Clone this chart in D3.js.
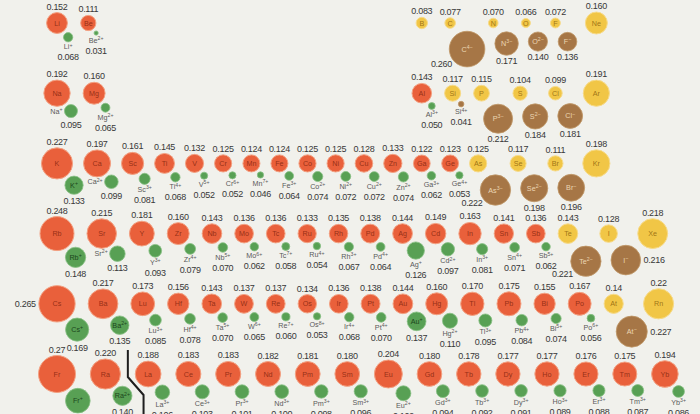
<!DOCTYPE html>
<html><head><meta charset="utf-8">
<script src="https://cdn.jsdelivr.net/npm/d3@7"></script>
<style>
html,body{margin:0;padding:0;background:#f1f1ec;}
svg{display:block;}
</style></head><body>
<svg id="chart" width="700" height="414"></svg>
<script>
// ---------------- data ----------------
const symbols = ["Li","Be","B","C","N","O","F","Ne",
 "Na","Mg","Al","Si","P","S","Cl","Ar",
 "K","Ca","Sc","Ti","V","Cr","Mn","Fe","Co","Ni","Cu","Zn","Ga","Ge","As","Se","Br","Kr",
 "Rb","Sr","Y","Zr","Nb","Mo","Tc","Ru","Rh","Pd","Ag","Cd","In","Sn","Sb","Te","I","Xe",
 "Cs","Ba","La","Ce","Pr","Nd","Pm","Sm","Eu","Gd","Tb","Dy","Ho","Er","Tm","Yb","Lu","Hf","Ta","W","Re","Os","Ir","Pt","Au","Hg","Tl","Pb","Bi","Po","At","Rn",
 "Fr","Ra"];
const firstAtomicNumber = 3;
const atomicRadii = ["0.152","0.111","0.083","0.077","0.070","0.066","0.072","0.160",
 "0.192","0.160","0.143","0.117","0.115","0.104","0.099","0.191",
 "0.227","0.197","0.161","0.145","0.132","0.125","0.124","0.124","0.125","0.125","0.128","0.133","0.122","0.123","0.125","0.117","0.111","0.198",
 "0.248","0.215","0.181","0.160","0.143","0.136","0.136","0.133","0.135","0.138","0.144","0.149","0.163","0.141","0.136","0.143","0.128","0.218",
 "0.265","0.217","0.188","0.183","0.183","0.182","0.181","0.180","0.204","0.180","0.178","0.177","0.177","0.176","0.175","0.194","0.173","0.156","0.143","0.137","0.137","0.134","0.136","0.138","0.144","0.160","0.170","0.175","0.155","0.167","0.14","0.22",
 "0.27","0.220"];
const ionCharges = ["+","2+","","4−","3−","2−","−","",
 "+","2+","3+","4+","3−","2−","−","",
 "+","2+","3+","4+","5+","6+","7+","3+","2+","2+","2+","2+","3+","4+","3−","2−","−","",
 "+","2+","3+","4+","5+","6+","7+","4+","3+","4+","+","2+","3+","4+","5+","2−","−","",
 "+","2+","3+","3+","3+","3+","3+","3+","2+","3+","3+","3+","3+","3+","3+","3+","3+","4+","5+","6+","7+","8+","4+","4+","+","2+","3+","4+","5+","6+","−","",
 "+","2+"];
const ionicRadii = ["0.068","0.031","","0.260","0.171","0.140","0.136","",
 "0.095","0.065","0.050","0.041","0.212","0.184","0.181","",
 "0.133","0.099","0.081","0.068","0.052","0.052","0.046","0.064","0.074","0.072","0.072","0.074","0.062","0.053","0.222","0.198","0.196","",
 "0.148","0.113","0.093","0.079","0.070","0.062","0.058","0.054","0.067","0.064","0.126","0.097","0.081","0.071","0.062","0.221","0.216","",
 "0.169","0.135","0.106","0.103","0.101","0.100","0.098","0.096","0.109","0.094","0.092","0.091","0.089","0.088","0.087","0.086","0.085","0.078","0.070","0.065","0.060","0.053","0.068","0.070","0.137","0.110","0.095","0.084","0.074","0.056","0.227","",
 "0.180","0.140"];
const nonmetals = ["B","C","N","O","F","Ne","Si","P","S","Cl","Ar","As","Se","Br","Kr","Te","I","Xe","At","Rn"];
const sBlock = [3,4,11,12,19,20,37,38,55,56,87,88];

// ---------------- setup ----------------
const W = 700, H = 414;
const FONT = '"Liberation Sans", Arial, Helvetica, sans-serif';
const svg = d3.select("#chart");
svg.append("rect").attr("width", W).attr("height", H).attr("fill", "#f1f1ec");

const rScale = d3.scaleLinear().domain([0, 0.27]).range([0, 18.5]);
const yScale = d3.scaleLinear().domain([2, 7]).range([23, 374]);
const xStart = 57;
const rowGap = {2: 13, 3: 13, 4: 11, 5: 13, 6: 13, 7: 14.8};

const colors = {
  metal: {fill: "#e9603b", stroke: "#f3a182", text: "#86260f"},
  nonmetal: {fill: "#f1c646", stroke: "#f7db8a", text: "#90650c"},
  cation: {fill: "#58a054", stroke: "#88c084", text: "#1c461c"},
  brown: {fill: "#a67646", stroke: "#c09868", text: "#ecd6b4"}
};

const els = symbols.map((s, i) => {
  const z = firstAtomicNumber + i;
  const period = z <= 10 ? 2 : z <= 18 ? 3 : z <= 36 ? 4 : z <= 54 ? 5 : z <= 86 ? 6 : 7;
  const block = (z >= 57 && z <= 70) ? "f" : sBlock.includes(z) ? "s" :
    ((z >= 21 && z <= 30) || (z >= 39 && z <= 48) || (z >= 71 && z <= 80)) ? "d" : "p";
  const charge = ionCharges[i];
  return {
    sym: s, z, period, block, row: block === "f" ? 7 : period,
    metal: !nonmetals.includes(s),
    arLabel: atomicRadii[i], ra: rScale(+atomicRadii[i]),
    charge, irLabel: ionicRadii[i], ri: charge ? rScale(+ionicRadii[i]) : 0,
    anion: charge.endsWith("−")
  };
});

function ionOff(e) {
  if (!e.charge) return null;
  const a = (e.anion ? 57 : 52) * Math.PI / 180, g = e.anion ? 8 : 3;
  const d = e.ra + e.ri + g;
  return {dx: d * Math.cos(a), dy: d * Math.sin(a)};
}

function pack(list, startX, gap) {
  list.forEach((e, i) => {
    const minX = e.minX ?? -Infinity;
    if (i === 0) { e.x = Math.max(startX, minX); return; }
    const p = list[i - 1];
    let x = Math.max(p.x + p.ra + e.ra + gap, p.x + 26, minX);
    const po = ionOff(p);
    if (po) {
      const need = p.ri + e.ra + (p.anion ? 8 : 6);
      if (need > po.dy) x = Math.max(x, p.x + po.dx + Math.sqrt(need * need - po.dy * po.dy));
      const eo = ionOff(e);
      if (eo) {
        const sep = (p.anion || e.anion) ? p.ri + e.ri + 10 : Math.max(p.ri + e.ri + 6, 28);
        x = Math.max(x, p.x + po.dx + sep - eo.dx);
      }
    }
    e.x = x;
  });
}

const blockOrder = {s: 0, f: 1, d: 2, p: 3};
const rows = d3.group(els, e => e.row);
rows.forEach(list => list.sort((a, b) => blockOrder[a.block] - blockOrder[b.block] || a.z - b.z));
[4, 5, 6, 7].forEach(r => pack(rows.get(r), xStart, rowGap[r]));
const pCols = rows.get(4).filter(e => e.block === "p");
[3, 2].forEach(r => {
  const list = rows.get(r);
  const pList = list.filter(e => e.block === "p");
  pList.forEach((e, i) => { e.minX = pCols[i].x; });
  pack(list.filter(e => e.block === "s"), xStart, rowGap[r]);
  pack(pList, pCols[0].x, rowGap[r]);
});
els.forEach(e => {
  e.y = yScale(e.row);
  const o = ionOff(e);
  if (o) { e.ix = e.x + o.dx; e.iy = e.y + o.dy; }
});

// ---------------- circles ----------------
const atomStyle = e => e.metal ? colors.metal : colors.nonmetal;
const ionStyle = e => e.metal ? colors.cation : colors.brown;
const ions = els.filter(e => e.charge);

svg.append("g").selectAll("circle").data(els).join("circle")
  .attr("cx", e => e.x).attr("cy", e => e.y).attr("r", e => e.ra)
  .attr("fill", e => atomStyle(e).fill).attr("stroke", e => atomStyle(e).stroke).attr("stroke-width", 1);
svg.append("g").selectAll("circle").data(ions).join("circle")
  .attr("cx", e => e.ix).attr("cy", e => e.iy).attr("r", e => e.ri)
  .attr("fill", e => ionStyle(e).fill).attr("stroke", e => ionStyle(e).stroke).attr("stroke-width", 0.8);

// lanthanide separator line
const Ra = els.find(e => e.sym === "Ra"), La = els.find(e => e.sym === "La");
const lx1 = (Ra.x + Ra.ra + La.x - La.ra) / 2;
const lx2 = (Ra.ix + Ra.ri + La.ix - La.ri) / 2;
const ly0 = (yScale(6) + yScale(7)) / 2 + 11;
svg.append("path")
  .attr("d", d3.line()([[lx1, ly0], [lx1, La.y + 3], [lx2, La.y + 21], [lx2, H + 5]]))
  .attr("fill", "none").attr("stroke", "#1e1e1e").attr("stroke-width", 2);

// ---------------- label placement ----------------
const placed = [];
const circ = [];
els.forEach(e => { circ.push({x: e.x, y: e.y, r: e.ra + 0.5}); if (e.charge) circ.push({x: e.ix, y: e.iy, r: e.ri + 0.5}); });
function hitCircle(b, c) {
  const cx = Math.max(b.x0, Math.min(c.x, b.x1)), cy = Math.max(b.y0, Math.min(c.y, b.y1));
  return (cx - c.x) ** 2 + (cy - c.y) ** 2 < c.r * c.r;
}
function overlap(a, b) {
  return Math.max(0, Math.min(a.x1, b.x1) - Math.max(a.x0, b.x0)) * Math.max(0, Math.min(a.y1, b.y1) - Math.max(a.y0, b.y0));
}
function cost(b) {
  let c = 0;
  placed.forEach(p => { c += overlap(b, p); });
  circ.forEach(k => { if (hitCircle(b, k)) c += 25; });
  if (b.x0 < 0 || b.x1 > W || b.y0 < -2) c += 200;
  return c;
}
function choose(cands) {
  let best = null, bc = Infinity;
  for (const b of cands) { const c = cost(b); if (c === 0) { best = b; break; } if (c < bc) { bc = c; best = b; } }
  placed.push(best);
  return best;
}
function box(x, base, w, h, anchor) {
  const x0 = anchor === "middle" ? x - w / 2 : anchor === "end" ? x - w : x;
  return {x, base, anchor, x0, x1: x0 + w, y0: base - h, y1: base + 1};
}
const VAL = 9, SYM = 7.2, ISYM = 7.2;
const valW = s => s.length * 4.3;
const symW = (s, c) => s.length * SYM * 0.6 + c.length * SYM * 0.45;

const valueLabels = [];
const ionSymLabels = [];

// cation symbols + values
ions.filter(e => !e.anion).forEach(e => {
  const inside = e.ri >= 8.7;
  let symBox = null;
  if (!inside) {
    const w = symW(e.sym, e.charge);
    const cands = [];
    if (e.block === "s") cands.push(box(e.ix - e.ri - 2, e.iy + 2.5, w, 6.5, "end"));
    cands.push(box(e.ix, e.iy + e.ri + 7.5, w, 6.5, "middle"));
    symBox = choose(cands);
    ionSymLabels.push({e, b: symBox});
  }
  const below = symBox && symBox.anchor === "middle";
  const vb = choose([box(e.ix, e.iy + e.ri + (below ? 18.5 : 10), valW(e.irLabel), 6.8, "middle")]);
  valueLabels.push({t: e.irLabel, b: vb});
});

// atom values
els.forEach(e => {
  const w = valW(e.arLabel);
  const b = choose([
    box(e.x, e.y - e.ra - 3, w, 6.8, "middle"),
    box(e.x - e.ra - 3, e.y + 3, w, 6.8, "end"),
    box(e.x + e.ra + 3, e.y + 3, w, 6.8, "start")
  ]);
  valueLabels.push({t: e.arLabel, b});
});

// anion values
ions.filter(e => e.anion).forEach(e => {
  const w = valW(e.irLabel);
  const b = choose([
    box(e.ix, e.iy + e.ri + 9, w, 6.8, "middle"),
    box(e.ix - e.ri * 0.85, e.iy + e.ri * 0.8 + 4, w, 6.8, "end"),
    box(e.ix + e.ri + 3, e.iy + 3, w, 6.8, "start"),
    box(e.ix, e.iy - e.ri - 2, w, 6.8, "middle"),
    box(e.ix - e.ri - 3, e.iy + 3, w, 6.8, "end"),
    box(e.ix + e.ri * 0.85, e.iy + e.ri * 0.8 + 4, w, 6.8, "start")
  ]);
  valueLabels.push({t: e.irLabel, b});
});

// ---------------- texts ----------------
const tg = svg.append("g").attr("font-family", FONT);
tg.selectAll("text.val").data(valueLabels).join("text").attr("class", "val")
  .attr("x", d => d.b.x).attr("y", d => d.b.base).attr("text-anchor", d => d.b.anchor)
  .attr("font-size", VAL).attr("letter-spacing", -0.3).attr("fill", "#383838").text(d => d.t);

// element symbols in atoms
tg.selectAll("text.sym").data(els).join("text").attr("class", "sym")
  .attr("x", e => e.x).attr("y", e => e.y).attr("dy", "0.35em").attr("text-anchor", "middle")
  .attr("font-size", SYM).attr("fill", e => atomStyle(e).text).attr("fill-opacity", 0.85).text(e => e.sym);

function ionText(sel, size) {
  sel.each(function(d) {
    const e = d.e || d;
    const t = d3.select(this);
    t.append("tspan").text(e.sym);
    t.append("tspan").attr("font-size", size * 0.72).attr("dy", -size * 0.38).text(e.charge);
  });
}
// ion symbols inside circles
const insideIons = ions.filter(e => e.anion || e.ri >= 8.7);
tg.selectAll("text.isym").data(insideIons).join("text").attr("class", "isym")
  .attr("x", e => e.ix).attr("y", e => e.iy + 2.5).attr("text-anchor", "middle")
  .attr("font-size", ISYM).attr("fill", e => ionStyle(e).text).call(ionText, ISYM);
// ion symbols outside
tg.selectAll("text.osym").data(ionSymLabels).join("text").attr("class", "osym")
  .attr("x", d => d.b.x).attr("y", d => d.b.base).attr("text-anchor", d => d.b.anchor)
  .attr("font-size", ISYM).attr("fill", "#5a5a5a").call(ionText, ISYM);
</script>
</body></html>
